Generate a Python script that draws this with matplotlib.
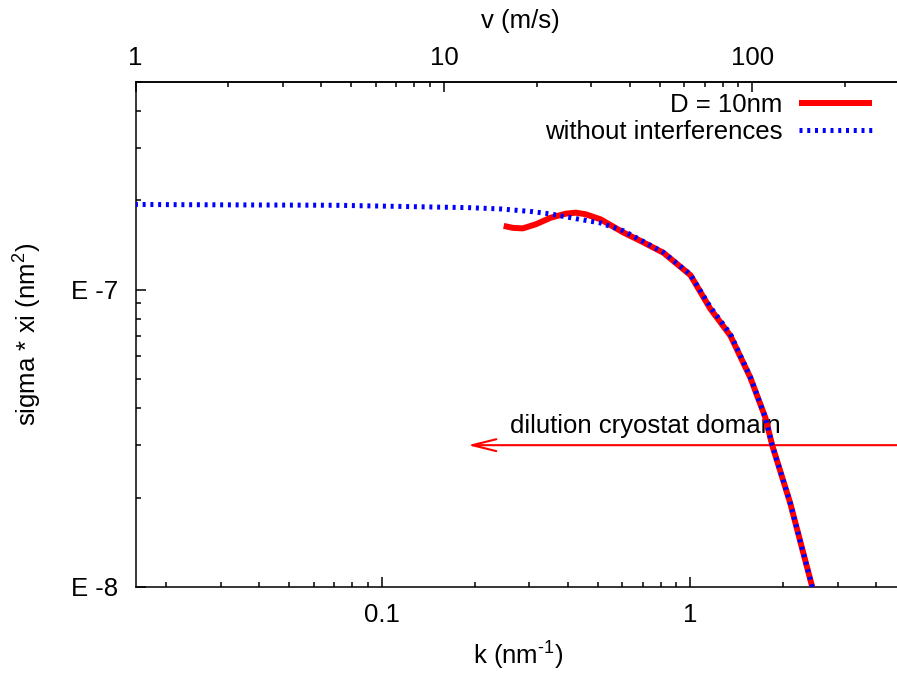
import numpy as np
import matplotlib
matplotlib.use('Agg')
import matplotlib.pyplot as plt
from matplotlib.ticker import LogLocator, FixedLocator, FuncFormatter, NullFormatter

plt.rcParams['font.family'] = ['Liberation Sans', 'DejaVu Sans']
plt.rcParams['mathtext.fontset'] = 'custom'
plt.rcParams['mathtext.rm'] = 'Liberation Sans'
plt.rcParams['mathtext.it'] = 'Liberation Sans'
plt.rcParams['mathtext.default'] = 'regular'
plt.rcParams['axes.unicode_minus'] = False
FS = 18.5

# ---- data ----
V_PER_K = 62.96          # v (m/s) per k (nm^-1)
k_range = [1.0 / V_PER_K, 5.0]
y_range = [1e-8, 5e-7]

k_d10 = [0.248, 0.266, 0.286, 0.315, 0.352, 0.394, 0.425, 0.457, 0.511, 0.607,
         0.689, 0.818, 1.000, 1.160, 1.347, 1.563, 1.749, 1.842, 2.107, 2.483, 2.636]
s_d10 = [1.640e-7, 1.615e-7, 1.609e-7, 1.660e-7, 1.747e-7, 1.803e-7, 1.817e-7,
         1.795e-7, 1.726e-7, 1.557e-7, 1.460e-7, 1.331e-7, 1.120e-7, 8.63e-8,
         7.01e-8, 5.07e-8, 3.72e-8, 2.995e-8, 1.914e-8, 1.0e-8, 7.93e-9]

k_noint = [0.0158, 0.071, 0.191, 0.243, 0.308, 0.352, 0.431, 0.511, 0.607, 0.689,
           0.818, 1.000, 1.160, 1.347, 1.563, 1.749, 1.842, 2.107, 2.483, 2.636]
s_noint = [1.936e-7, 1.924e-7, 1.889e-7, 1.870e-7, 1.831e-7, 1.799e-7, 1.730e-7,
           1.678e-7, 1.578e-7, 1.470e-7, 1.335e-7, 1.125e-7, 8.75e-8, 7.10e-8,
           5.10e-8, 3.72e-8, 2.995e-8, 1.914e-8, 1.0e-8, 7.93e-9]

series_labels = ["D = 10nm", "without interferences"]
v_major = [1, 10, 100]
v_minor = [2, 3, 4, 5, 6, 7, 8, 9, 20, 30, 40, 50, 60, 70, 80, 90, 200, 300]
arrow_k = [5.0, 0.19]
arrow_s = 3e-8
domain_text = "dilution cryostat domain"
domain_k, domain_s = 0.26, 3.29e-8

# ---- figure ----
W, H = 897, 673
fig = plt.figure(figsize=(W / 100, H / 100), dpi=100)
L, R, T, B = 135.6, 906.0, 82.0, 587.0
ax = fig.add_axes([L / W, 1 - B / H, (R - L) / W, (B - T) / H])

ax.plot(k_d10, s_d10, color='#ff0000', lw=4.3, solid_capstyle='butt',
        label=series_labels[0], zorder=3)
ax.plot(k_noint, s_noint, color='#0000ff', lw=3.6, linestyle=(0, (0.6, 0.95)),
        dash_capstyle='butt', label=series_labels[1], zorder=4)

ax.set_xscale('log')
ax.set_yscale('log')
ax.set_xlim(*k_range)
ax.set_ylim(*y_range)

ax.annotate('', xy=(arrow_k[1], arrow_s), xytext=(arrow_k[0], arrow_s),
            arrowprops=dict(arrowstyle='->,head_length=1.73,head_width=0.43',
                            color='#ff0000', lw=1.5, shrinkA=0, shrinkB=0,
                            mutation_scale=10),
            annotation_clip=False, zorder=2)
ax.text(domain_k, domain_s, domain_text, fontsize=FS, ha='left', va='baseline',
        color='black', zorder=1.5)

# ticks
for sp in ax.spines.values():
    sp.set_linewidth(1.1)
ax.spines['right'].set_visible(False)
ax.tick_params(which='both', direction='in', width=1.1, top=False, right=False)
ax.tick_params(which='major', length=7.2)
ax.tick_params(which='minor', length=3.6)
ax.tick_params(axis='x', which='both', labelsize=FS, pad=11.8)
ax.tick_params(axis='y', which='both', labelsize=FS, pad=12.7)
ax.xaxis.set_major_locator(LogLocator(base=10, numticks=10))
ax.xaxis.set_minor_locator(LogLocator(base=10, subs=np.arange(2, 10), numticks=20))
ax.xaxis.set_major_formatter(FuncFormatter(lambda v, p: f"{v:g}"))
ax.xaxis.set_minor_formatter(NullFormatter())
ax.yaxis.set_major_locator(LogLocator(base=10, numticks=10))
ax.yaxis.set_minor_locator(LogLocator(base=10, subs=np.arange(2, 10), numticks=20))
ax.yaxis.set_major_formatter(FuncFormatter(lambda v, p: f"E {int(round(np.log10(v)))}"))
ax.yaxis.set_minor_formatter(NullFormatter())

secax = ax.secondary_xaxis('top', functions=(lambda k: k * V_PER_K, lambda v: v / V_PER_K))
secax.tick_params(which='both', direction='in', width=1.1, labelsize=FS, pad=8.4)
secax.tick_params(which='major', length=7.2)
secax.tick_params(which='minor', length=3.6)
secax.xaxis.set_major_locator(FixedLocator(v_major))
secax.xaxis.set_minor_locator(FixedLocator(v_minor))
secax.xaxis.set_major_formatter(FuncFormatter(lambda v, p: f"{v:g}"))
secax.xaxis.set_minor_formatter(NullFormatter())
secax.spines['top'].set_linewidth(1.1)
secax.set_xlabel('v (m/s)', fontsize=FS, labelpad=13)

ax.set_xlabel('k (nm$^{\u2010 1}$)', fontsize=FS)
ax.xaxis.set_label_coords((518 - L) / (R - L), (B - 640) / (B - T))
ax.set_ylabel('sigma * xi (nm$^{2}$)', fontsize=FS)
ax.yaxis.set_label_coords((44 - L) / (R - L), 0.5)

leg = ax.legend(loc='upper right', bbox_to_anchor=(872 / W, 1 - 93 / H),
                bbox_transform=fig.transFigure, frameon=False, markerfirst=False,
                fontsize=FS, handlelength=2.84, handletextpad=0.66,
                labelspacing=0.1, borderpad=0, borderaxespad=0)

fig.savefig('out.png', dpi=100)
